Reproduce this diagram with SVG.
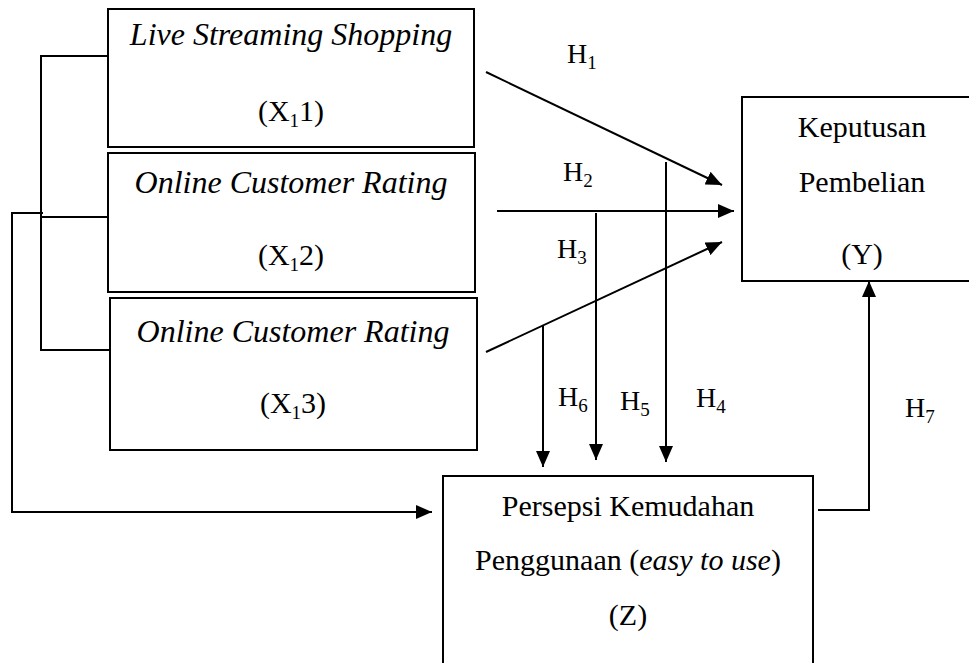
<svg xmlns="http://www.w3.org/2000/svg" width="969" height="663" viewBox="0 0 969 663">
  <defs>
    <style>
      .box { fill: #fff; stroke: #000; stroke-width: 2; }
      .ln { fill: none; stroke: #000; stroke-width: 2; }
      text { font-family: 'Liberation Serif', Tinos, 'DejaVu Serif', serif; font-size: 30px; fill: #000; }
      .c { text-anchor: middle; }
      .i { font-style: italic; }
      .ti { font-size: 32px; }
      .h { font-size: 28px; }
      .sub { font-size: 19px; }
    </style>
    <marker id="arrB" viewBox="0 0 16 14" refX="16" refY="7" markerWidth="16" markerHeight="14" markerUnits="userSpaceOnUse" orient="auto">
      <path d="M0,0 L16,7 L0,14 z" fill="#000"/>
    </marker>
  </defs>

  <!-- Independent variables -->
  <g id="x11">
    <rect class="box" x="108" y="9" width="366" height="138"/>
    <text class="c i ti" x="291" y="45">Live Streaming Shopping</text>
    <text class="c" x="291" y="121">(X<tspan class="sub" dy="6">1</tspan><tspan dy="-6">1)</tspan></text>
  </g>
  <g id="x12">
    <rect class="box" x="108" y="153" width="367" height="139"/>
    <text class="c i ti" x="291" y="193">Online Customer Rating</text>
    <text class="c" x="291" y="265">(X<tspan class="sub" dy="6">1</tspan><tspan dy="-6">2)</tspan></text>
  </g>
  <g id="x13">
    <rect class="box" x="110" y="298" width="367" height="152"/>
    <text class="c i ti" x="293" y="342">Online Customer Rating</text>
    <text class="c" x="293" y="413">(X<tspan class="sub" dy="6">1</tspan><tspan dy="-6">3)</tspan></text>
  </g>

  <!-- Dependent variable -->
  <g id="y">
    <rect class="box" x="742" y="97" width="240" height="184"/>
    <text class="c" x="862" y="137">Keputusan</text>
    <text class="c" x="862" y="192">Pembelian</text>
    <text class="c" x="862" y="264">(Y)</text>
  </g>

  <!-- Intervening variable -->
  <g id="z">
    <rect class="box" x="443" y="476" width="370" height="210"/>
    <text class="c" x="628" y="516">Persepsi Kemudahan</text>
    <text class="c" x="628" y="570">Penggunaan (<tspan class="i">easy to use</tspan>)</text>
    <text class="c" x="628" y="625">(Z)</text>
  </g>

  <!-- Connectors -->
  <g id="connectors">
    <!-- bracket joining X1 dimensions -->
    <path class="ln" d="M107,56 H41 V350 H109 M41,217 H107"/>
    <!-- combined X1 to Z -->
    <path class="ln" d="M43,213 H12 V512 H432" marker-end="url(#arrB)"/>
    <!-- H1, H2, H3 to Y -->
    <line class="ln" x1="486" y1="72" x2="722" y2="185" marker-end="url(#arrB)"/>
    <line class="ln" x1="497" y1="211" x2="734" y2="211" marker-end="url(#arrB)"/>
    <line class="ln" x1="486" y1="352" x2="722" y2="242" marker-end="url(#arrB)"/>
    <!-- H4, H5, H6 to Z -->
    <line class="ln" x1="666" y1="162" x2="666" y2="462" marker-end="url(#arrB)"/>
    <line class="ln" x1="596" y1="213" x2="596" y2="460" marker-end="url(#arrB)"/>
    <line class="ln" x1="543" y1="325" x2="543" y2="467" marker-end="url(#arrB)"/>
    <!-- H7 Z to Y -->
    <path class="ln" d="M818,510 H869 V281" marker-end="url(#arrB)"/>
  </g>

  <!-- Hypothesis labels -->
  <g id="labels">
    <text class="h" x="567" y="63">H<tspan class="sub" dy="6">1</tspan></text>
    <text class="h" x="563" y="181">H<tspan class="sub" dy="6">2</tspan></text>
    <text class="h" x="557" y="258">H<tspan class="sub" dy="6">3</tspan></text>
    <text class="h" x="696" y="407">H<tspan class="sub" dy="6">4</tspan></text>
    <text class="h" x="620" y="410">H<tspan class="sub" dy="6">5</tspan></text>
    <text class="h" x="558" y="406">H<tspan class="sub" dy="6">6</tspan></text>
    <text class="h" x="905" y="417">H<tspan class="sub" dy="6">7</tspan></text>
  </g>
</svg>
